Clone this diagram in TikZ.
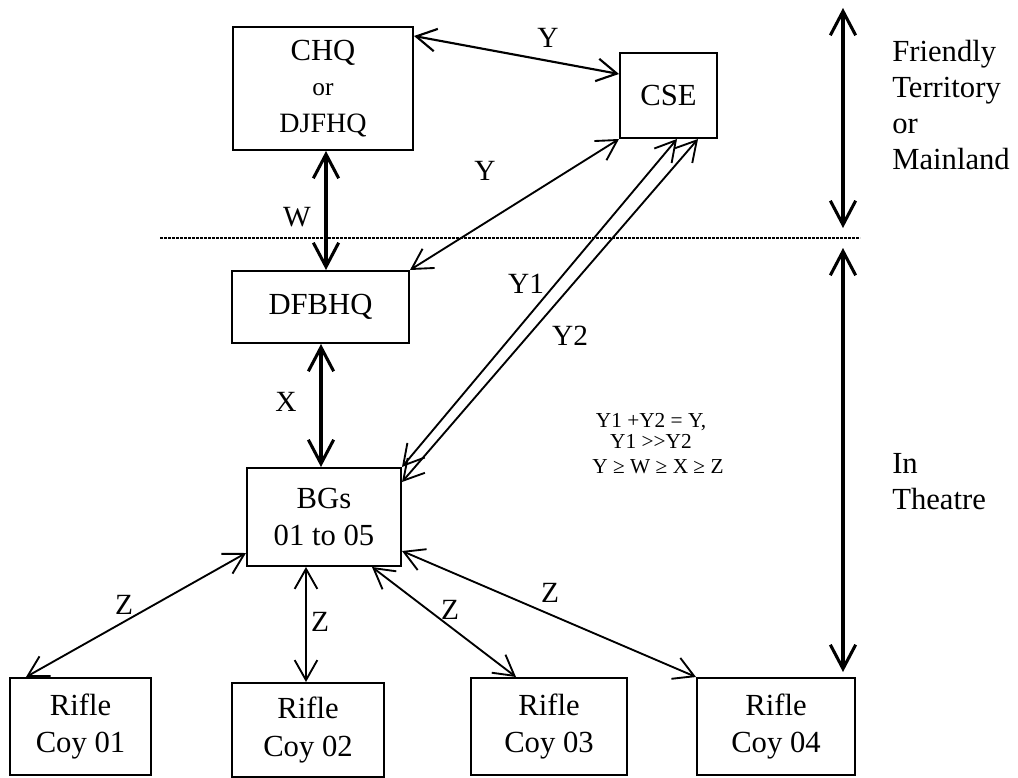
\documentclass[tikz,border=0pt]{standalone}
\usepackage{fontspec}
\setmainfont{Liberation Serif}
\usetikzlibrary{arrows.meta}
\begin{document}
\begin{tikzpicture}[x=0.75pt,y=-0.75pt,
  box/.style={draw,line width=1.5pt,inner sep=0pt,align=center,font=\fontsize{23}{28}\selectfont},
  lbl/.style={inner sep=0pt,font=\fontsize{22}{26}\selectfont},
  eqn/.style={inner sep=0pt,font=\fontsize{16}{19}\selectfont},
  thinarr/.style={line width=1.4pt,{Straight Barb[length=15pt,width=17pt]}-{Straight Barb[length=15pt,width=17pt]}},
  thickarr/.style={line width=2.3pt,{Straight Barb[length=18pt,width=19pt]}-{Straight Barb[length=18pt,width=19pt]}},
  side/.style={inner sep=0pt,align=left,anchor=north west,font=\fontsize{23}{27}\selectfont}]
\useasboundingbox (0,0) rectangle (1018,778);
% boxes
\node[box,minimum width=135pt,minimum height=92.25pt] (chq) at (323,88.5)
  {CHQ\\[-2pt]{\fontsize{19}{21}\selectfont or}\\{\fontsize{21}{24}\selectfont DJFHQ}};
\node[box,minimum width=72.75pt,minimum height=63.75pt] (cse) at (668.5,95.5) {CSE};
\node[box,minimum width=132.75pt,minimum height=54pt] (dfbhq) at (320.5,307) {DFBHQ};
\node[box,minimum width=115.5pt,minimum height=73.5pt] (bgs) at (324,517) {BGs\\01 to 05};
\node[box,minimum width=105.75pt,minimum height=72.75pt] (r1) at (80.5,726.5) {Rifle\\Coy 01};
\node[box,minimum width=114pt,minimum height=70.5pt] (r2) at (308,730) {Rifle\\Coy 02};
\node[box,minimum width=117pt,minimum height=72.75pt] (r3) at (549,726.5) {Rifle\\Coy 03};
\node[box,minimum width=118.5pt,minimum height=72.75pt] (r4) at (776,726.5) {Rifle\\Coy 04};
% dotted boundary
\coordinate (dl) at (160,238);
\coordinate (dr) at (860,238);
\draw[line width=2.2pt,dash pattern=on 2pt off 1pt] (dl) -- (dr);
% side arrows
\coordinate (ft) at (843,8);
\coordinate (fb) at (843,228);
\coordinate (tt) at (843,248);
\coordinate (tb) at (843,672);
\draw[thickarr] (ft) -- (fb);
\draw[thickarr] (tt) -- (tb);
\node[side] (ftxt) at (892,40) {Friendly\\Territory\\or\\Mainland};
\node[side] (ttxt) at (892,453) {In\\Theatre};
% connectors
\draw[thinarr,line width=1.6pt] (chq.east |- 0,36) -- (cse.west |- 0,74);
\draw[thickarr] (chq.south -| 326,0) -- (dfbhq.north -| 326,0);
\draw[thickarr] (dfbhq.south -| 321,0) -- (bgs.north -| 321,0);
\draw[thinarr] (cse.south west) -- (dfbhq.north east);
\draw[thinarr] (cse.south -| 677,0) -- (bgs.north east);
\draw[thinarr] (cse.south -| 698,0) -- (bgs.east |- 0,482);
\draw[thinarr] (bgs.west |- 0,553) -- (r1.north -| 26,0);
\draw[thinarr] (bgs.south -| 306,0) -- (r2.north -| 306,0);
\draw[thinarr] (bgs.south -| 372,0) -- (r3.north -| 516,0);
\draw[thinarr] (bgs.east |- 0,551) -- (r4.north west);
% labels
\node[lbl] (ly0) at (548,38) {Y};
\node[lbl] (ly) at (485,171) {Y};
\node[lbl] (lw) at (297,217) {W};
\node[lbl] (lx) at (286,402) {X};
\node[lbl] (ly1) at (526,284) {Y1};
\node[lbl] (ly2) at (570,336) {Y2};
\node[lbl] (lz1) at (124,605) {Z};
\node[lbl] (lz2) at (320,622) {Z};
\node[lbl] (lz3) at (450,610) {Z};
\node[lbl] (lz4) at (550,593) {Z};
% equations
\node[eqn] (eq1) at (651,422) {Y1 +Y2 = Y,};
\node[eqn] (eq2) at (651,441) {Y1 >{}>Y2};
\node[eqn] (eq3) at (658,467) {Y ≥ W ≥ X ≥ Z};
\end{tikzpicture}
\end{document}
